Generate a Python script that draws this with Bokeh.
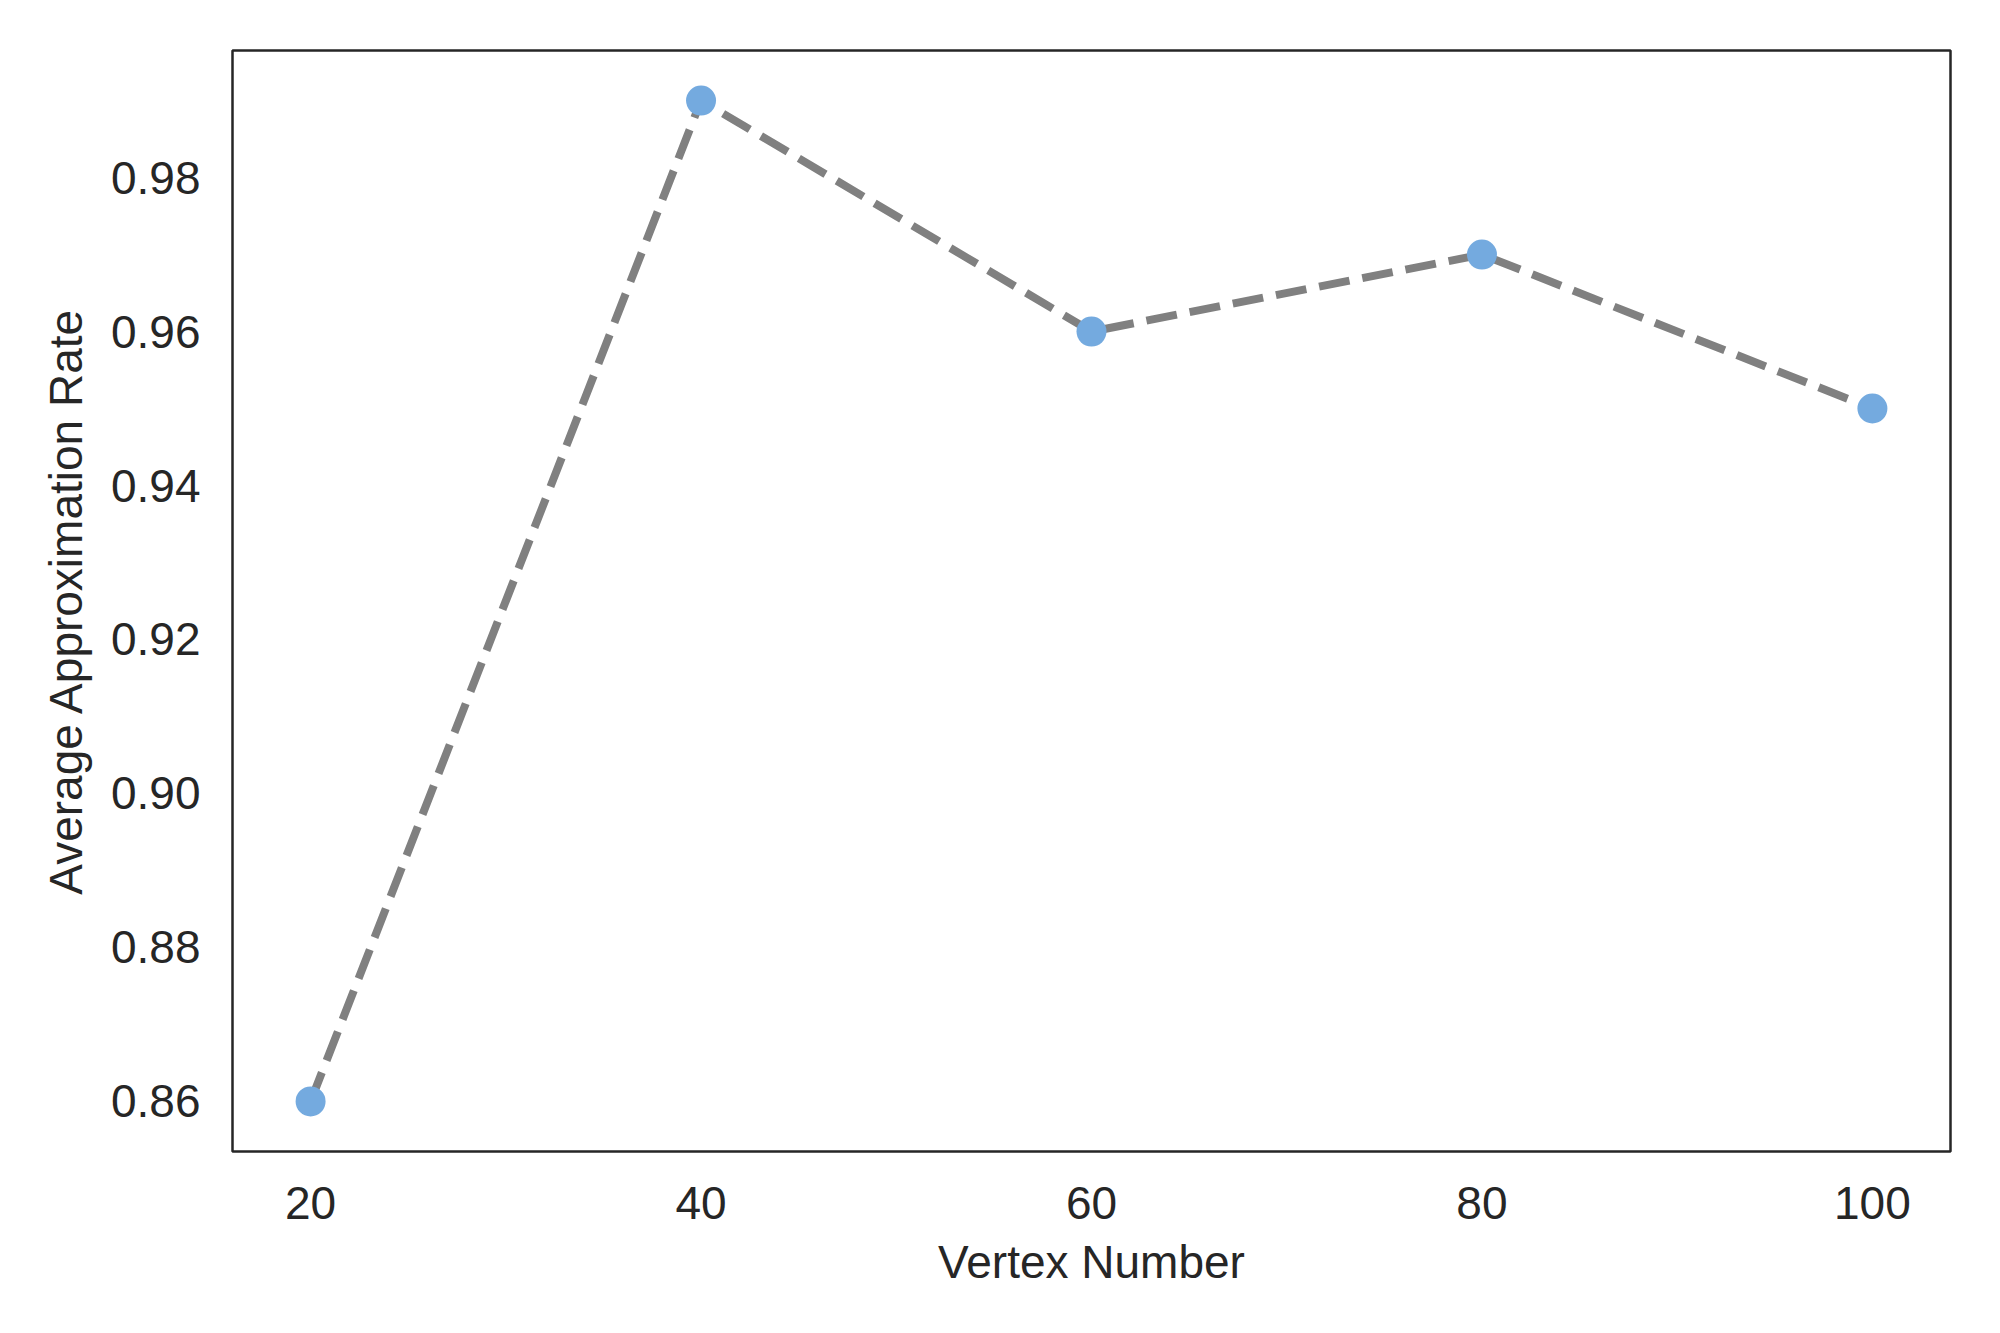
from bokeh.plotting import figure
from bokeh.models import Range1d, FixedTicker, CustomJSTickFormatter
from bokeh.embed import file_html
from bokeh.resources import INLINE

vertex_number = [20, 40, 60, 80, 100]
approx_rate = [0.86, 0.99, 0.96, 0.97, 0.95]
x_ticks = [20, 40, 60, 80, 100]
y_ticks = [0.86, 0.88, 0.90, 0.92, 0.94, 0.96, 0.98]

FONT = "Liberation Sans"
TXT = "#262626"

p = figure(frame_width=1718, frame_height=1101, output_backend="svg", toolbar_location=None,
           x_range=Range1d(16, 104), y_range=Range1d(0.8535, 0.9965),
           min_border_left=232, min_border_right=34, min_border_top=50, min_border_bottom=166)
p.background_fill_color = "white"
p.border_fill_color = "white"
p.xgrid.visible = False
p.ygrid.visible = False
p.outline_line_color = TXT
p.outline_line_width = 2.5

p.line(vertex_number, approx_rate, line_color="#808080", line_width=8, line_dash="31 13")
p.scatter(vertex_number, approx_rate, size=30, fill_color="#74aadf", line_color=None)

for ax in (p.xaxis[0], p.yaxis[0]):
    ax.axis_line_color = None
    ax.major_tick_line_color = None
    ax.minor_tick_line_color = None
    ax.major_tick_out = 0
    ax.major_tick_in = 0
    ax.major_label_text_font = FONT
    ax.major_label_text_font_size = "46px"
    ax.major_label_text_color = TXT
    ax.axis_label_text_font = FONT
    ax.axis_label_text_font_size = "46px"
    ax.axis_label_text_color = TXT
    ax.axis_label_text_font_style = "normal"

p.xaxis.ticker = FixedTicker(ticks=x_ticks)
p.yaxis.ticker = FixedTicker(ticks=y_ticks)
p.yaxis.formatter = CustomJSTickFormatter(code="return tick.toFixed(2);")
p.xaxis.axis_label = "Vertex Number"
p.yaxis.axis_label = "Average Approximation Rate"
p.xaxis.major_label_standoff = 35
p.yaxis.major_label_standoff = 32
p.xaxis.axis_label_standoff = 14
p.yaxis.axis_label_standoff = 16

open("out.html", "w").write(file_html(p, INLINE))
